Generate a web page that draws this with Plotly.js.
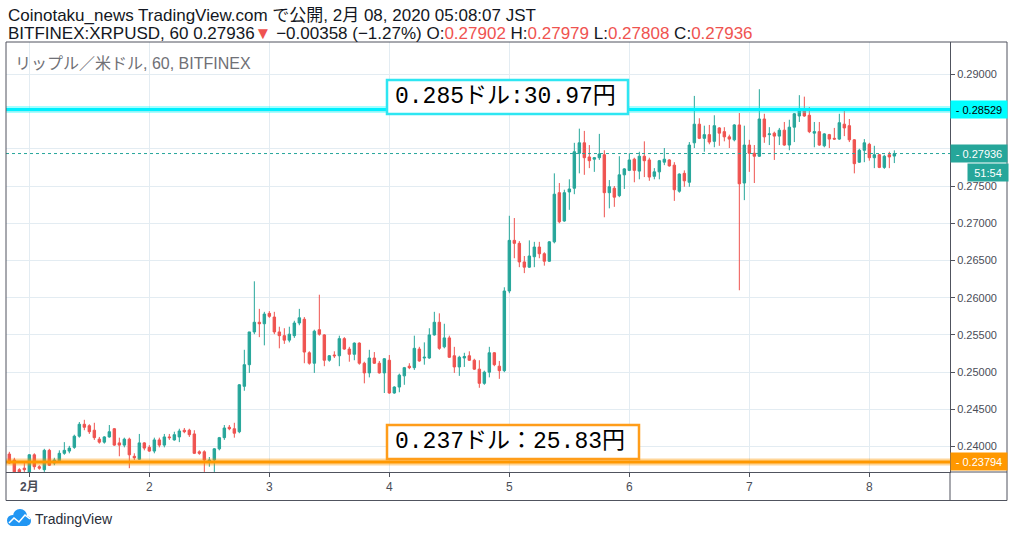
<!DOCTYPE html>
<html>
<head>
<meta charset="utf-8">
<script src="https://cdn.plot.ly/plotly-3.0.1.min.js"></script>
<style>
  html, body { margin: 0; padding: 0; background: #ffffff; }
  #chart { width: 1014px; height: 537px; }
</style>
</head>
<body>
<div id="chart"></div>
<script>
// ---------------- DATA (XRPUSD, BITFINEX, 60 min, JST) ----------------
const firstCandle = '2020-01-31T20:00:00';   // first hourly candle shown
const openPrices = [
  0.2390, 0.2382, 0.2369, 0.2371,
  0.2366, 0.2389, 0.2373, 0.2369, 0.2395, 0.2378, 0.2381, 0.2391, 0.2394, 0.2399,
  0.2414, 0.2430, 0.2428, 0.2422, 0.2410, 0.2406, 0.2413, 0.2424, 0.2405, 0.2402,
  0.2410, 0.2387, 0.2383, 0.2405, 0.2399, 0.2394, 0.2409, 0.2402, 0.2413, 0.2409,
  0.2413, 0.2422, 0.2422, 0.2417, 0.2393, 0.2393, 0.2379, 0.2382, 0.2397, 0.2412,
  0.2426, 0.2424, 0.2420, 0.2481, 0.2510, 0.2554, 0.2567, 0.2565, 0.2579, 0.2574,
  0.2554, 0.2549, 0.2543, 0.2549, 0.2566, 0.2571, 0.2526, 0.2512, 0.2557, 0.2550,
  0.2516, 0.2523, 0.2522, 0.2545, 0.2531, 0.2524, 0.2539, 0.2512, 0.2499, 0.2519,
  0.2512, 0.2499, 0.2516, 0.2472, 0.2480, 0.2495, 0.2508, 0.2506, 0.2531, 0.2519,
  0.2519, 0.2550, 0.2567, 0.2534, 0.2546, 0.2522, 0.2507, 0.2519, 0.2522, 0.2516,
  0.2504, 0.2485, 0.2500, 0.2526, 0.2508, 0.2502, 0.2609, 0.2677, 0.2673, 0.2648,
  0.2641, 0.2655, 0.2668, 0.2659, 0.2649, 0.2675, 0.2741, 0.2703, 0.2742, 0.2747,
  0.2794, 0.2808, 0.2789, 0.2786, 0.2788, 0.2792, 0.2741, 0.2747, 0.2737, 0.2765,
  0.2771, 0.2786, 0.2770, 0.2790, 0.2785, 0.2763, 0.2769, 0.2782, 0.2785, 0.2778,
  0.2743, 0.2767, 0.2755, 0.2808, 0.2833, 0.2814, 0.2819, 0.2810, 0.2828, 0.2823,
  0.2816, 0.2812, 0.2832, 0.2754, 0.2805, 0.2794, 0.2790, 0.2840, 0.2819, 0.2821,
  0.2817, 0.2825, 0.2805, 0.2829, 0.2844, 0.2852, 0.2845, 0.2821, 0.2823, 0.2804,
  0.2819, 0.2814, 0.2813, 0.2833, 0.2831, 0.2812, 0.2782, 0.2798, 0.2806, 0.2788,
  0.2792, 0.2775, 0.2792, 0.27902
];
const highPrices = [
  0.2393, 0.2385, 0.2371, 0.2378,
  0.2390, 0.2391, 0.2375, 0.2397, 0.2397, 0.2385, 0.2395, 0.2406, 0.2401, 0.2416,
  0.2433, 0.2436, 0.2430, 0.2432, 0.2413, 0.2414, 0.2429, 0.2425, 0.2412, 0.2412,
  0.2412, 0.2391, 0.2417, 0.2406, 0.2402, 0.2412, 0.2412, 0.2417, 0.2417, 0.2420,
  0.2424, 0.2425, 0.2424, 0.2422, 0.2395, 0.2395, 0.2386, 0.2398, 0.2413, 0.2429,
  0.2429, 0.2432, 0.2484, 0.2530, 0.2553, 0.2622, 0.2585, 0.2581, 0.2582, 0.2581,
  0.2561, 0.2559, 0.2561, 0.2569, 0.2585, 0.2574, 0.2528, 0.2557, 0.2604, 0.2551,
  0.2523, 0.2528, 0.2549, 0.2547, 0.2534, 0.2540, 0.2540, 0.2514, 0.2530, 0.2527,
  0.2515, 0.2519, 0.2523, 0.2481, 0.2498, 0.2507, 0.2512, 0.2549, 0.2534, 0.2540,
  0.2559, 0.2581, 0.2579, 0.2565, 0.2549, 0.2534, 0.2522, 0.2526, 0.2528, 0.2518,
  0.2516, 0.2502, 0.2534, 0.2527, 0.2515, 0.2614, 0.2710, 0.2707, 0.2676, 0.2656,
  0.2677, 0.2675, 0.2675, 0.2661, 0.2676, 0.2767, 0.2754, 0.2745, 0.2759, 0.2808,
  0.2827, 0.2824, 0.2805, 0.2789, 0.2820, 0.2798, 0.2758, 0.2750, 0.2790, 0.2774,
  0.2794, 0.2788, 0.2796, 0.2810, 0.2788, 0.2774, 0.2785, 0.2801, 0.2786, 0.2782,
  0.2767, 0.2771, 0.2809, 0.2871, 0.2841, 0.2831, 0.2832, 0.2845, 0.2829, 0.2829,
  0.2819, 0.2833, 0.2848, 0.2831, 0.2812, 0.2805, 0.2880, 0.2847, 0.2829, 0.2823,
  0.2828, 0.2836, 0.2839, 0.2848, 0.2872, 0.2870, 0.2856, 0.2836, 0.2836, 0.2821,
  0.2820, 0.2828, 0.2847, 0.2851, 0.2840, 0.2813, 0.2800, 0.2813, 0.2808, 0.2804,
  0.2793, 0.2792, 0.2796, 0.27979
];
const lowPrices = [
  0.2377, 0.2363, 0.2363, 0.2366,
  0.2363, 0.2369, 0.2369, 0.2366, 0.2374, 0.2375, 0.2378, 0.2389, 0.2391, 0.2397,
  0.2412, 0.2422, 0.2417, 0.2409, 0.2404, 0.2404, 0.2412, 0.2401, 0.2387, 0.2399,
  0.2371, 0.2382, 0.2382, 0.2395, 0.2393, 0.2391, 0.2399, 0.2399, 0.2409, 0.2408,
  0.2406, 0.2418, 0.2413, 0.2390, 0.2389, 0.2366, 0.2373, 0.2366, 0.2395, 0.2409,
  0.2422, 0.2412, 0.2418, 0.2475, 0.2499, 0.2551, 0.2547, 0.2536, 0.2573, 0.2551,
  0.2532, 0.2538, 0.2540, 0.2546, 0.2563, 0.2512, 0.2510, 0.2499, 0.2549, 0.2508,
  0.2514, 0.2519, 0.2508, 0.2530, 0.2514, 0.2516, 0.2510, 0.2485, 0.2493, 0.2511,
  0.2498, 0.2472, 0.2471, 0.2471, 0.2473, 0.2483, 0.2504, 0.2503, 0.2514, 0.2510,
  0.2518, 0.2549, 0.2530, 0.2532, 0.2519, 0.2499, 0.2495, 0.2507, 0.2515, 0.2503,
  0.2479, 0.2483, 0.2493, 0.2508, 0.2491, 0.2500, 0.2606, 0.2653, 0.2641, 0.2633,
  0.2640, 0.2641, 0.2653, 0.2643, 0.2648, 0.2673, 0.2700, 0.2702, 0.2718, 0.2739,
  0.2767, 0.2765, 0.2774, 0.2769, 0.2785, 0.2708, 0.2720, 0.2722, 0.2735, 0.2746,
  0.2770, 0.2755, 0.2759, 0.2762, 0.2757, 0.2759, 0.2759, 0.2778, 0.2776, 0.2730,
  0.2741, 0.2749, 0.2749, 0.2801, 0.2813, 0.2796, 0.2806, 0.2802, 0.2804, 0.2810,
  0.2801, 0.2810, 0.2610, 0.2731, 0.2769, 0.2754, 0.2789, 0.2808, 0.2805, 0.2785,
  0.2805, 0.2804, 0.2798, 0.2809, 0.2836, 0.2843, 0.2821, 0.2802, 0.2804, 0.2802,
  0.2801, 0.2812, 0.2812, 0.2817, 0.2809, 0.2767, 0.2781, 0.2782, 0.2784, 0.2774,
  0.2774, 0.2773, 0.2774, 0.27808
];
const closePrices = [
  0.2378, 0.2366, 0.2366, 0.2369,
  0.2389, 0.2373, 0.2371, 0.2395, 0.2375, 0.2382, 0.2391, 0.2395, 0.2398, 0.2414,
  0.2430, 0.2426, 0.2420, 0.2412, 0.2406, 0.2413, 0.2420, 0.2402, 0.2402, 0.2410,
  0.2389, 0.2385, 0.2405, 0.2398, 0.2394, 0.2409, 0.2402, 0.2413, 0.2412, 0.2416,
  0.2421, 0.2420, 0.2416, 0.2391, 0.2391, 0.2382, 0.2382, 0.2397, 0.2412, 0.2425,
  0.2424, 0.2418, 0.2483, 0.2510, 0.2554, 0.2567, 0.2565, 0.2578, 0.2575, 0.2554,
  0.2549, 0.2543, 0.2551, 0.2566, 0.2573, 0.2527, 0.2512, 0.2555, 0.2551, 0.2516,
  0.2522, 0.2522, 0.2545, 0.2531, 0.2524, 0.2539, 0.2512, 0.2499, 0.2519, 0.2512,
  0.2499, 0.2518, 0.2472, 0.2480, 0.2496, 0.2506, 0.2506, 0.2532, 0.2515, 0.2520,
  0.2550, 0.2567, 0.2532, 0.2546, 0.2520, 0.2507, 0.2520, 0.2521, 0.2516, 0.2504,
  0.2485, 0.2500, 0.2526, 0.2510, 0.2502, 0.2609, 0.2677, 0.2673, 0.2648, 0.2641,
  0.2656, 0.2668, 0.2659, 0.2649, 0.2675, 0.2739, 0.2702, 0.2741, 0.2746, 0.2796,
  0.2808, 0.2788, 0.2784, 0.2788, 0.2793, 0.2741, 0.2749, 0.2735, 0.2765, 0.2773,
  0.2785, 0.2771, 0.2790, 0.2784, 0.2762, 0.2769, 0.2784, 0.2786, 0.2777, 0.2745,
  0.2766, 0.2757, 0.2805, 0.2833, 0.2814, 0.2819, 0.2809, 0.2831, 0.2821, 0.2816,
  0.2813, 0.2832, 0.2753, 0.2805, 0.2794, 0.2790, 0.2840, 0.2816, 0.2820, 0.2817,
  0.2825, 0.2805, 0.2829, 0.2847, 0.2851, 0.2844, 0.2823, 0.2823, 0.2805, 0.2820,
  0.2813, 0.2813, 0.2835, 0.2828, 0.2812, 0.2780, 0.2798, 0.2808, 0.2788, 0.2792,
  0.2775, 0.2790, 0.2789, 0.27936
];
const dayTicks = ['2020-02-01', '2020-02-02', '2020-02-03', '2020-02-04',
                  '2020-02-05', '2020-02-06', '2020-02-07', '2020-02-08'];
const dayLabels = ['<b>2月</b>', '2', '3', '4', '5', '6', '7', '8'];
const priceTicks = [0.240, 0.245, 0.250, 0.255, 0.260, 0.265, 0.270, 0.275, 0.280, 0.285, 0.290];
// 0.28000 and 0.28500 sit behind the price marker boxes in the original, so their text is blank
const priceTickLabels = ['0.24000', '0.24500', '0.25000', '0.25500', '0.26000', '0.26500',
                         '0.27000', '0.27500', '', '', '0.29000'];
const resistanceLevel = 0.28529;   // cyan line
const supportLevel = 0.23794;      // orange line
const lastPrice = 0.27936;
const countdown = '51:54';
const resistanceNote = '0.285ドル:30.97円';
const supportNote = '0.237ドル：25.83円';
const headerLine1 = 'Coinotaku_news TradingView.com で公開, 2月 08, 2020 05:08:07 JST';
const symbolLegend = 'リップル／米ドル, 60, BITFINEX';

// ---------------- build ----------------
function pad(n) { return (n < 10 ? '0' : '') + n; }
const t0 = new Date(firstCandle + 'Z').getTime();
const times = openPrices.map((_, i) => {
  const d = new Date(t0 + i * 3600000);
  return d.getUTCFullYear() + '-' + pad(d.getUTCMonth() + 1) + '-' + pad(d.getUTCDate()) +
         ' ' + pad(d.getUTCHours()) + ':00:00';
});

const UP = '#26a69a', DOWN = '#ef5350';
const FONT = 'Liberation Sans, Arial, Noto Sans CJK JP, sans-serif';
const NOTEFONT = 'Liberation Mono, DejaVu Sans Mono, Noto Sans CJK JP, monospace';
const AXC = '#50535e';

// pixel -> paper helpers (plot area: x 6..950, y 42..472)
const L = 6, R = 950, T = 42, B = 472;
const PX = x => (x - L) / (R - L);
const PY = y => (B - y) / (B - T);

const trace = {
  type: 'candlestick',
  x: times,
  open: openPrices, high: highPrices, low: lowPrices, close: closePrices,
  increasing: { line: { color: UP, width: 1 }, fillcolor: UP },
  decreasing: { line: { color: DOWN, width: 1 }, fillcolor: DOWN },
  whiskerwidth: 0,
  hoverinfo: 'skip',
  showlegend: false
};

const fmt = v => v.toFixed(5);
const red = s => '<span style="color:' + DOWN + '">' + s + '</span>';
const last = openPrices.length - 1;
const headerLine2 = 'BITFINEX:XRPUSD, 60 ' + fmt(lastPrice) + red('▼') +
  ' −0.00358 (−1.27%) O:' + red(fmt(openPrices[last])) + ' H:' + red(fmt(highPrices[last])) +
  ' L:' + red(fmt(lowPrices[last])) + ' C:' + red(fmt(closePrices[last]));

const shapes = [
  // last price dotted line
  { type: 'line', xref: 'paper', yref: 'y', x0: 0, x1: 1, y0: lastPrice, y1: lastPrice,
    line: { color: UP, width: 1, dash: 'dot' }, layer: 'above' },
  // resistance line (glow + core)
  { type: 'line', xref: 'paper', yref: 'y', x0: 0, x1: 1, y0: resistanceLevel, y1: resistanceLevel,
    line: { color: 'rgba(0,255,255,0.35)', width: 7 }, layer: 'above' },
  { type: 'line', xref: 'paper', yref: 'y', x0: 0, x1: 1, y0: resistanceLevel, y1: resistanceLevel,
    line: { color: '#00f0ff', width: 3 }, layer: 'above' },
  // support line (glow + core)
  { type: 'line', xref: 'paper', yref: 'y', x0: 0, x1: 1, y0: supportLevel, y1: supportLevel,
    line: { color: 'rgba(255,152,0,0.40)', width: 7 }, layer: 'above' },
  { type: 'line', xref: 'paper', yref: 'y', x0: 0, x1: 1, y0: supportLevel, y1: supportLevel,
    line: { color: '#ff9800', width: 3 }, layer: 'above' },
  // note boxes
  { type: 'rect', xref: 'paper', yref: 'paper', x0: PX(387), x1: PX(628), y0: PY(114), y1: PY(80),
    fillcolor: '#ffffff', line: { color: '#2ee6f2', width: 2.5 }, layer: 'above' },
  { type: 'rect', xref: 'paper', yref: 'paper', x0: PX(387), x1: PX(639), y0: PY(459), y1: PY(425),
    fillcolor: '#ffffff', line: { color: '#ff9d1a', width: 2.5 }, layer: 'above' },
  // outer frame
  { type: 'rect', xref: 'paper', yref: 'paper', x0: PX(6), x1: PX(1007), y0: PY(500.5), y1: PY(42),
    line: { color: AXC, width: 1 }, layer: 'above' },
  { type: 'line', xref: 'paper', yref: 'paper', x0: PX(950), x1: PX(1007), y0: 0, y1: 0,
    line: { color: AXC, width: 1 }, layer: 'above' },
  { type: 'line', xref: 'paper', yref: 'paper', x0: 1, x1: 1, y0: PY(500.5), y1: 0,
    line: { color: AXC, width: 1 }, layer: 'above' },
  // TradingView logo (cloud)
  { type: 'circle', xref: 'paper', yref: 'paper', x0: PX(7), x1: PX(18), y0: PY(526), y1: PY(515),
    fillcolor: '#2196f3', line: { width: 0 }, layer: 'above' },
  { type: 'circle', xref: 'paper', yref: 'paper', x0: PX(13), x1: PX(27), y0: PY(523), y1: PY(509),
    fillcolor: '#2196f3', line: { width: 0 }, layer: 'above' },
  { type: 'circle', xref: 'paper', yref: 'paper', x0: PX(21), x1: PX(31), y0: PY(526), y1: PY(516),
    fillcolor: '#2196f3', line: { width: 0 }, layer: 'above' },
  { type: 'rect', xref: 'paper', yref: 'paper', x0: PX(12), x1: PX(27), y0: PY(526), y1: PY(519),
    fillcolor: '#2196f3', line: { width: 0 }, layer: 'above' },
  { type: 'path', xref: 'paper', yref: 'paper',
    path: 'M' + PX(9) + ',' + PY(523) + ' L' + PX(14) + ',' + PY(518) + ' L' + PX(19) + ',' + PY(522) +
          ' L' + PX(25) + ',' + PY(515) + ' L' + PX(30) + ',' + PY(519),
    line: { color: '#ffffff', width: 1.6 }, layer: 'above' }
];

const axisLabel = (y, text, bg, color, extra) => Object.assign({
  xref: 'paper', yref: 'y', x: 1, y: y, xanchor: 'left', yanchor: 'middle',
  text: text, showarrow: false, bgcolor: bg, width: 56, height: 17, align: 'center',
  borderpad: 0, font: { family: FONT, size: 11, color: color }
}, extra || {});

const annotations = [
  { xref: 'paper', yref: 'paper', x: PX(6), y: PY(15), xanchor: 'left', yanchor: 'middle',
    text: headerLine1, showarrow: false, font: { family: FONT, size: 17, color: '#131722' } },
  { xref: 'paper', yref: 'paper', x: PX(6), y: PY(33), xanchor: 'left', yanchor: 'middle',
    text: headerLine2, showarrow: false, font: { family: FONT, size: 17, color: '#131722' } },
  { xref: 'paper', yref: 'paper', x: PX(13), y: PY(63), xanchor: 'left', yanchor: 'middle',
    text: symbolLegend, showarrow: false, font: { family: FONT, size: 16, color: '#6f7076' } },
  { xref: 'paper', yref: 'paper', x: PX(393), y: PY(97), xanchor: 'left', yanchor: 'middle',
    text: resistanceNote, showarrow: false,
    font: { family: NOTEFONT, size: 23, color: '#000000' } },
  { xref: 'paper', yref: 'paper', x: PX(393), y: PY(442), xanchor: 'left', yanchor: 'middle',
    text: supportNote, showarrow: false,
    font: { family: NOTEFONT, size: 23, color: '#000000' } },
  axisLabel(resistanceLevel, '- ' + fmt(resistanceLevel), '#00ffff', '#000000'),
  axisLabel(lastPrice, '- ' + fmt(lastPrice), UP, '#ffffff'),
  axisLabel(lastPrice, countdown, UP, '#ffffff', { x: PX(967), width: 40, yshift: -19 }),
  axisLabel(supportLevel, '- ' + fmt(supportLevel), '#ff9800', '#ffffff'),
  { xref: 'paper', yref: 'paper', x: PX(33), y: PY(519), xanchor: 'left', yanchor: 'middle',
    text: 'TradingView', showarrow: false, font: { family: FONT, size: 14, color: '#2a2e39' } }
];

const layout = {
  width: 1014, height: 537,
  margin: { l: L, r: 1014 - R, t: T, b: 537 - B, pad: 0 },
  paper_bgcolor: '#ffffff', plot_bgcolor: '#ffffff',
  showlegend: false, hovermode: false, dragmode: false,
  boxgap: 0.3,
  xaxis: {
    type: 'date',
    range: ['2020-01-31 19:20', '2020-02-08 16:08'],
    rangeslider: { visible: false },
    tickvals: dayTicks, ticktext: dayLabels, tickmode: 'array',
    showgrid: true, gridcolor: '#e3ecf2', gridwidth: 1,
    ticks: 'outside', ticklen: 4, tickcolor: AXC,
    showline: true, linecolor: AXC, linewidth: 1,
    tickfont: { family: FONT, size: 12, color: '#4a4d57' },
    zeroline: false, fixedrange: true
  },
  yaxis: {
    side: 'right',
    range: [0.23659, 0.29434],
    tickvals: priceTicks, ticktext: priceTickLabels, tickmode: 'array',
    showgrid: true, gridcolor: '#e3ecf2', gridwidth: 1,
    ticks: 'outside', ticklen: 4, tickcolor: AXC,
    showline: true, linecolor: AXC, linewidth: 1,
    tickfont: { family: FONT, size: 11, color: '#4a4d57' },
    zeroline: false, fixedrange: true
  },
  shapes: shapes,
  annotations: annotations
};

Plotly.newPlot('chart', [trace], layout, { staticPlot: true, displayModeBar: false });
</script>
</body>
</html>
